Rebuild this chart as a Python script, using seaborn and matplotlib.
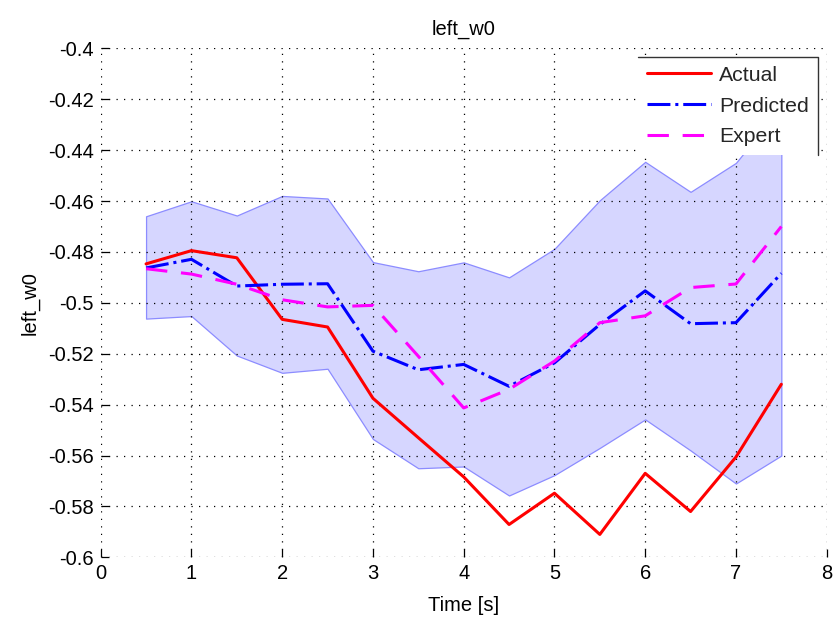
import numpy as np
import pandas as pd
import matplotlib
matplotlib.use("Agg")
import matplotlib.pyplot as plt
import seaborn as sns
from matplotlib.lines import Line2D

# ---- data ----
time_s = [0.5, 1.0, 1.5, 2.0, 2.5, 3.0, 3.5, 4.0, 4.5, 5.0, 5.5, 6.0, 6.5, 7.0, 7.5]
actual = [-0.4847, -0.4795, -0.4823, -0.5065, -0.5095, -0.5375, -0.5530, -0.5684, -0.5871,
          -0.5748, -0.5910, -0.5670, -0.5820, -0.5606, -0.5320]
predicted = [-0.4863, -0.4829, -0.4934, -0.4927, -0.4925, -0.5190, -0.5263, -0.5242, -0.5328,
             -0.5236, -0.5085, -0.4953, -0.5082, -0.5078, -0.4884]
expert = [-0.4866, -0.4887, -0.4927, -0.4988, -0.5016, -0.5010, -0.5210, -0.5413, -0.5340,
          -0.5229, -0.5078, -0.5051, -0.4940, -0.4926, -0.4700]
upper = [-0.4660, -0.4601, -0.4657, -0.4580, -0.4590, -0.4840, -0.4876, -0.4841, -0.4900,
         -0.4788, -0.4597, -0.4446, -0.4564, -0.4450, -0.4230]
lower = [-0.5062, -0.5052, -0.5207, -0.5275, -0.5259, -0.5535, -0.5650, -0.5643, -0.5757,
         -0.5677, -0.5570, -0.5458, -0.5580, -0.5710, -0.5600]
x_ticks = [0, 1, 2, 3, 4, 5, 6, 7, 8]
y_ticks = [-0.6, -0.58, -0.56, -0.54, -0.52, -0.5, -0.48, -0.46, -0.44, -0.42, -0.4]
y_tick_labels = ["-0.6", "-0.58", "-0.56", "-0.54", "-0.52", "-0.5", "-0.48", "-0.46",
                 "-0.44", "-0.42", "-0.4"]

df = pd.DataFrame({"t": time_s, "Actual": actual, "Predicted": predicted,
                   "Expert": expert, "upper": upper, "lower": lower})

sns.set_theme(style="white")
plt.rcParams["font.family"] = ["Liberation Sans", "DejaVu Sans"]
FS = 14.5

fig = plt.figure(figsize=(8.37, 6.26), dpi=100)
ax = fig.add_axes([0.1203, 0.1097, 0.9877 - 0.1203, 0.9228 - 0.1097])

ax.fill_between(df["t"], df["lower"], df["upper"], facecolor=(0.0, 0.0, 1.0, 0.16),
                edgecolor=(0.55, 0.55, 1.0), linewidth=0.9, zorder=0.5)

sns.lineplot(data=df, x="t", y="Actual", ax=ax, color="#ff0000", linewidth=2.2,
             label="Actual", zorder=3)
sns.lineplot(data=df, x="t", y="Predicted", ax=ax, color="#0000ff", linewidth=2.2,
             label="Predicted", zorder=3)
ax.lines[-1].set_dashes((7.5, 1.6, 1.0, 1.6))
sns.lineplot(data=df, x="t", y="Expert", ax=ax, color="#ff00ff", linewidth=2.2,
             label="Expert", zorder=3)
ax.lines[-1].set_dashes((7, 4.5))

ax.set_xlim(0, 8)
ax.set_ylim(-0.6, -0.4)
ax.set_xticks(x_ticks)
ax.set_xticklabels([str(v) for v in x_ticks])
ax.set_yticks(y_ticks)
ax.set_yticklabels(y_tick_labels)
for s in ax.spines.values():
    s.set_visible(False)
ax.set_axisbelow("line")
ax.grid(True, color="black", linestyle=(0, (1, 5)), linewidth=0.9)
ax.tick_params(axis="both", direction="in", length=6, width=0.9, color="black",
               labelsize=FS, labelcolor="black", pad=5, left=True, bottom=True)

ax.set_title("left_w0", fontsize=FS, color="black", pad=10)
ax.set_xlabel("Time [s]", fontsize=FS, color="black", labelpad=9)
ax.set_ylabel("left_w0", fontsize=FS, color="black", labelpad=6)

leg = ax.legend(loc="upper right", bbox_to_anchor=(0.988, 0.983), fontsize=15.3,
                frameon=True, fancybox=False, framealpha=1.0, facecolor="white",
                edgecolor="none", handlelength=3.0, handletextpad=0.4,
                labelspacing=0.55, borderpad=0.42, borderaxespad=0.0)
leg.set_zorder(5)

fig.canvas.draw()
bb = leg.get_window_extent().transformed(fig.transFigure.inverted())
fig.add_artist(Line2D([bb.x0, bb.x1, bb.x1], [bb.y1, bb.y1, bb.y0],
                      transform=fig.transFigure, color="#333333", linewidth=1.0, zorder=6))

fig.savefig("out.png", dpi=100, facecolor="white")
